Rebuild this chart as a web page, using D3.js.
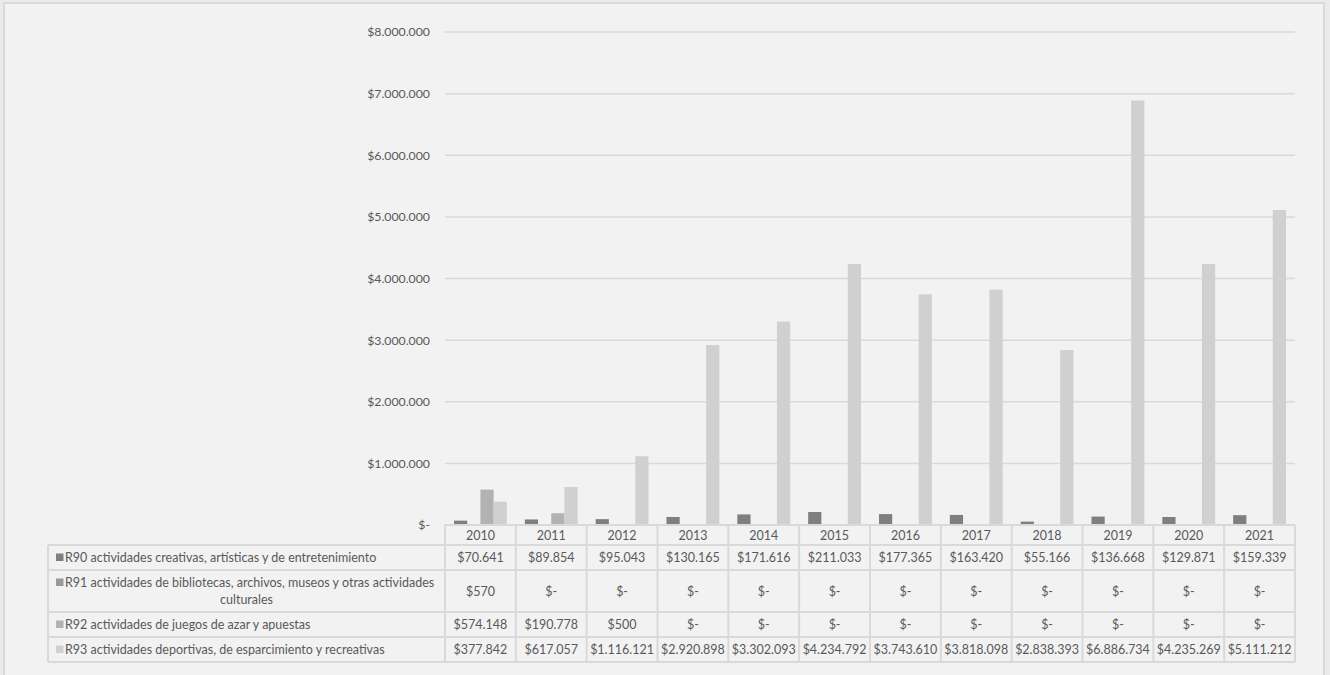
<!DOCTYPE html>
<html><head><meta charset="utf-8">
<script src="https://cdn.jsdelivr.net/npm/d3@7"></script>
<style>
html,body{margin:0;padding:0;background:#f2f2f2;}
svg{display:block;}
text{font-family:Lato,"Open Sans",sans-serif;fill:#595959;}
</style></head><body>
<svg id="c" width="1330" height="675"></svg>
<script>
const years = ["2010","2011","2012","2013","2014","2015","2016","2017","2018","2019","2020","2021"];
const seriesNames = [
  "R90 actividades creativas, artísticas y de entretenimiento",
  "R91 actividades de bibliotecas, archivos, museos y otras actividades culturales",
  "R92 actividades de juegos de azar y apuestas",
  "R93 actividades deportivas, de esparcimiento y recreativas"
];
const r90 = [70641, 89854, 95043, 130165, 171616, 211033, 177365, 163420, 55166, 136668, 129871, 159339];
const r91 = [570, 0, 0, 0, 0, 0, 0, 0, 0, 0, 0, 0];
const r92 = [574148, 190778, 500, 0, 0, 0, 0, 0, 0, 0, 0, 0];
const r93 = [377842, 617057, 1116121, 2920898, 3302093, 4234792, 3743610, 3818098, 2838393, 6886734, 4235269, 5111212];
const seriesValues = [r90, r91, r92, r93];
const seriesColors = ["#7f7f7f", "#999999", "#b2b2b2", "#d0d0d0"];
const yTicks = [0, 1000000, 2000000, 3000000, 4000000, 5000000, 6000000, 7000000, 8000000];

(function () {
const loc = d3.formatLocale({decimal: ",", thousands: ".", grouping: [3], currency: ["$", ""]});
const fmtNum = loc.format(",.0f");
const fmt = v => v === 0 ? "$-" : "$" + fmtNum(v);
const fs = 12.5;

const svg = d3.select("#c");
svg.append("rect").attr("x", 0).attr("y", 0).attr("width", 1330).attr("height", 675).attr("fill", "#ebebeb");
svg.append("rect").attr("x", 4).attr("y", 3).attr("width", 1320).attr("height", 690)
  .attr("fill", "#f2f2f2").attr("stroke", "#d9d9d9").attr("stroke-width", 2);

const pLeft = 445, pRight = 1295, pTop = 32, base = 525;
const x = d3.scaleBand().domain(years).range([pLeft, pRight]).paddingInner(0).paddingOuter(0);
const y = d3.scaleLinear().domain([0, 8000000]).range([base, pTop]);
const bw = x.bandwidth();
const xs = d3.scaleBand().domain(d3.range(4)).range([bw * 0.127, bw * 0.873]).padding(0);

svg.append("g").selectAll("line").data(yTicks.filter(d => d > 0)).join("line")
  .attr("x1", pLeft).attr("x2", pRight).attr("y1", d => y(d)).attr("y2", d => y(d))
  .attr("stroke", "#d9d9d9").attr("stroke-width", 1.5);

const yAxis = d3.axisLeft(y).tickValues(yTicks).tickFormat(fmt).tickSize(0).tickPadding(15);
const ga = svg.append("g").attr("transform", `translate(${pLeft},0)`).call(yAxis);
ga.select(".domain").remove();
ga.selectAll("text").attr("font-size", 12.3).attr("fill", "#595959").style("font-family", "Lato, sans-serif");

seriesValues.forEach((vals, si) => {
  svg.append("g").selectAll("rect").data(vals).join("rect")
    .attr("x", (d, i) => x(years[i]) + xs(si))
    .attr("width", xs.bandwidth())
    .attr("y", d => y(d))
    .attr("height", d => base - y(d))
    .attr("fill", seriesColors[si]);
});

const rowEdges = [base, 545, 570, 612, 637, 662];
const labelLeft = 48;
const tl = svg.append("g").attr("stroke", "#d9d9d9").attr("stroke-width", 2);
tl.append("line").attr("x1", pLeft).attr("x2", pRight).attr("y1", base).attr("y2", base);
rowEdges.slice(1).forEach(yy => {
  tl.append("line").attr("x1", labelLeft).attr("x2", pRight).attr("y1", yy).attr("y2", yy);
});
tl.append("line").attr("x1", labelLeft).attr("x2", labelLeft).attr("y1", 545).attr("y2", 662);
years.forEach(yr => {
  tl.append("line").attr("x1", x(yr)).attr("x2", x(yr)).attr("y1", base).attr("y2", 662);
});
tl.append("line").attr("x1", pRight).attr("x2", pRight).attr("y1", base).attr("y2", 662);

svg.append("g").selectAll("text").data(years).join("text")
  .attr("x", d => x(d) + bw / 2).attr("y", (rowEdges[0] + rowEdges[1]) / 2 + 4.5)
  .attr("text-anchor", "middle").attr("font-size", fs).text(d => d);

seriesValues.forEach((vals, si) => {
  const cy = (rowEdges[si + 1] + rowEdges[si + 2]) / 2 + 4.5;
  svg.append("g").selectAll("text").data(vals).join("text")
    .attr("x", (d, i) => x(years[i]) + bw / 2).attr("y", cy)
    .attr("text-anchor", "middle").attr("font-size", fs).text(d => fmt(d));
});

const labelLines = [
  [seriesNames[0]],
  ["R91 actividades de bibliotecas, archivos, museos y otras actividades", "culturales"],
  [seriesNames[2]],
  [seriesNames[3]]
];
labelLines.forEach((lines, si) => {
  const r0 = rowEdges[si + 1], r1 = rowEdges[si + 2];
  const cy = (r0 + r1) / 2;
  const g = svg.append("g");
  const n = lines.length;
  lines.forEach((ln, li) => {
    const ty = cy + (li - (n - 1) / 2) * 17 + 4.5;
    if (li === 0) {
      g.append("rect").attr("x", 56).attr("y", ty - 8.5).attr("width", 7.5).attr("height", 7.5).attr("fill", seriesColors[si]);
      g.append("text").attr("x", 65).attr("y", ty).attr("font-size", fs).text(ln);
    } else {
      g.append("text").attr("x", (labelLeft + pLeft) / 2).attr("y", ty).attr("text-anchor", "middle").attr("font-size", fs).text(ln);
    }
  });
});
})();
</script>
</body></html>
